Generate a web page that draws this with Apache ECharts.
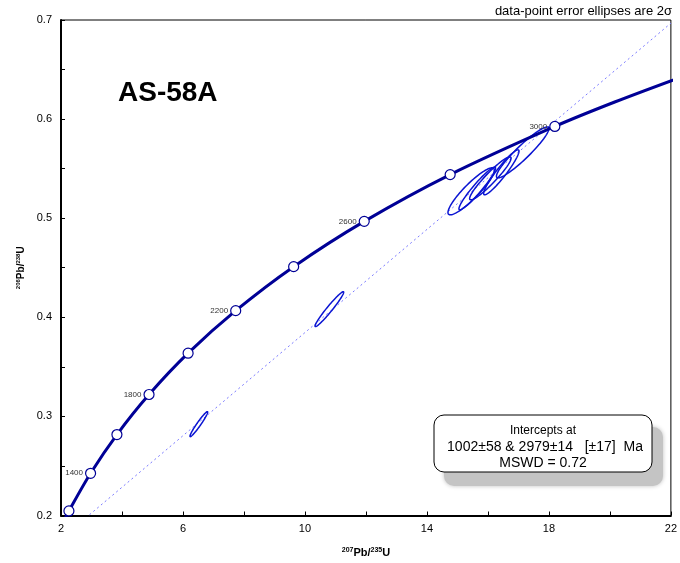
<!DOCTYPE html>
<html>
<head>
<meta charset="utf-8">
<script src="https://cdn.jsdelivr.net/npm/echarts@6/dist/echarts.min.js"></script>
<style>
html,body{margin:0;padding:0;background:#fff;}
#c{width:680px;height:563px;}
</style>
</head>
<body>
<div id="c"></div>
<script>
// Concordia curve points (Ma, 207Pb/235U, 206Pb/238U)
const curveAges = [1150, 1200, 1400, 1600, 1800, 2000, 2200, 2400, 2600, 2800, 3000, 3100, 3200];
const curveX = [2.104, 2.260, 2.970, 3.834, 4.887, 6.168, 7.729, 9.629, 11.944, 14.762, 18.194, 20.18, 22.37];
const curveY = [0.1953, 0.2046, 0.2426, 0.2817, 0.3221, 0.3638, 0.4067, 0.4511, 0.4968, 0.5440, 0.5926, 0.6175, 0.6428];
// Age markers
const markerAges = [1200, 1400, 1600, 1800, 2000, 2200, 2400, 2600, 2800, 3000];
const markerX = [2.260, 2.970, 3.834, 4.887, 6.168, 7.729, 9.629, 11.944, 14.762, 18.194];
const markerY = [0.2046, 0.2426, 0.2817, 0.3221, 0.3638, 0.4067, 0.4511, 0.4968, 0.5440, 0.5926];
const labeledAges = [1400, 1800, 2200, 2600, 3000];
// Discordia line endpoints
const discordiaX = [1.683, 22.0];
const discordiaY = [0.1682, 0.6968];
// Error ellipses: centre x, centre y, x half-width, y half-height, correlation
const ellX   = [6.52, 10.80, 15.45, 15.65, 16.08, 16.44, 17.14];
const ellY   = [0.2922, 0.4082, 0.5271, 0.5300, 0.5402, 0.5463, 0.5664];
const ellSX  = [0.29, 0.47, 0.76, 0.60, 0.68, 0.58, 0.86];
const ellSY  = [0.0126, 0.0176, 0.0237, 0.0215, 0.0217, 0.0227, 0.0257];
const ellRho = [0.965, 0.97, 0.90, 0.95, 0.94, 0.94, 0.935];
// Axis ticks
const xTickLabels = [2, 6, 10, 14, 18, 22];
const yTickLabels = [0.2, 0.3, 0.4, 0.5, 0.6, 0.7];

const FONT = 'Liberation Sans, Arial, sans-serif';
const chart = echarts.init(document.getElementById('c'));

const curveData = curveX.map((x, i) => [x, curveY[i]]);
const markerData = markerX.map((x, i) => [x, markerY[i], markerAges[i]]);
const discData = discordiaX.map((x, i) => [x, discordiaY[i]]);
const ellData = ellX.map((x, i) => [x, ellY[i], ellSX[i], ellSY[i], ellRho[i]]);

const gL = 61, gT = 20, gR = 675, gB = 516;

chart.setOption({
  animation: false,
  grid: {left: gL, top: gT, right: 680 - gR, bottom: 563 - gB, show: true, borderColor: '#000', borderWidth: 1},
  xAxis: {
    type: 'value', min: 2, max: 22, interval: 2,
    splitLine: {show: false},
    axisLine: {show: true, onZero: false, lineStyle: {color: '#000', width: 2}},
    axisTick: {show: true, inside: true, length: 4, lineStyle: {color: '#000'}},
    axisLabel: {
      color: '#000', fontFamily: FONT, fontSize: 11, margin: 8,
      formatter: v => xTickLabels.indexOf(Math.round(v)) >= 0 ? String(Math.round(v)) : ''
    },
    name: '{sup|207}{b|Pb/}{sup|235}{b|U}',
    nameLocation: 'middle', nameGap: 31,
    nameTextStyle: {
      rich: {
        sup: {fontSize: 7, fontWeight: 'bold', fontFamily: FONT, color: '#000', verticalAlign: 'top', padding: [0, 0, 5, 0]},
        b: {fontSize: 11, fontWeight: 'bold', fontFamily: FONT, color: '#000'}
      }
    }
  },
  yAxis: {
    type: 'value', min: 0.2, max: 0.7, interval: 0.05,
    splitLine: {show: false},
    axisLine: {show: true, onZero: false, lineStyle: {color: '#000', width: 2}},
    axisTick: {show: true, inside: true, length: 4, lineStyle: {color: '#000'}},
    axisLabel: {
      color: '#000', fontFamily: FONT, fontSize: 11, margin: 9,
      formatter: v => {
        const r = Math.round(v * 100) / 100;
        return yTickLabels.some(t => Math.abs(t - r) < 1e-6) ? r.toFixed(1) : '';
      }
    },
    name: '{sup|206}{b|Pb/}{sup|238}{b|U}',
    nameLocation: 'middle', nameGap: 35, nameRotate: 90,
    nameTextStyle: {
      rich: {
        sup: {fontSize: 6, fontWeight: 'bold', fontFamily: FONT, color: '#000', padding: [0, 0, 4, 0]},
        b: {fontSize: 10, fontWeight: 'bold', fontFamily: FONT, color: '#000'}
      }
    }
  },
  series: [
    {
      type: 'line', data: discData, symbol: 'none', silent: true, clip: true, z: 1,
      lineStyle: {color: '#7a7aff', width: 1, type: [2, 3]}
    },
    {
      type: 'custom', data: ellData, z: 2, clip: true,
      encode: {x: 0, y: 1},
      renderItem: function (params, api) {
        const cx = api.value(0), cy = api.value(1), sx = api.value(2), sy = api.value(3), r = api.value(4);
        const q = Math.sqrt(1 - r * r);
        const pts = [];
        for (let k = 0; k <= 90; k++) {
          const t = k / 90 * Math.PI * 2;
          pts.push(api.coord([cx + sx * Math.cos(t), cy + sy * (r * Math.cos(t) + q * Math.sin(t))]));
        }
        return {type: 'polygon', shape: {points: pts}, style: {fill: 'none', stroke: '#0a14d2', lineWidth: 1.5}};
      }
    },
    {
      type: 'line', data: curveData, symbol: 'none', smooth: 0.3, clip: true, z: 3,
      lineStyle: {color: '#000096', width: 3}
    },
    {
      type: 'scatter', data: markerData, symbol: 'circle', symbolSize: 10, z: 4,
      itemStyle: {color: '#fff', borderColor: '#000096', borderWidth: 1.2, opacity: 1},
      label: {
        show: true, position: 'left', distance: 2, fontSize: 8, fontFamily: FONT, color: '#333',
        formatter: p => labeledAges.indexOf(p.value[2]) >= 0 ? String(p.value[2]) : ''
      }
    }
  ],
  graphic: [
    {type: 'text', left: 118, top: 79, style: {text: 'AS-58A', font: 'bold 28px ' + FONT, fill: '#000'}},
    {type: 'text', right: 8, top: 5, style: {text: 'data-point error ellipses are 2σ', font: '13px ' + FONT, fill: '#000'}},
    {type: 'rect', shape: {x: 444, y: 427, width: 219, height: 59, r: 10}, style: {fill: '#c4c4c4', shadowBlur: 4, shadowColor: 'rgba(0,0,0,0.25)'}, z: 10},
    {type: 'rect', shape: {x: 434, y: 415, width: 218, height: 57, r: 10}, style: {fill: '#fff', stroke: '#000', lineWidth: 1}, z: 11},
    {type: 'text', x: 543, y: 431, style: {text: 'Intercepts at', font: '12px ' + FONT, fill: '#000', textAlign: 'center', textVerticalAlign: 'middle'}, z: 12},
    {type: 'text', x: 545, y: 447, style: {text: '1002±58 & 2979±14   [±17]  Ma', font: '14px ' + FONT, fill: '#000', textAlign: 'center', textVerticalAlign: 'middle'}, z: 12},
    {type: 'text', x: 543, y: 463, style: {text: 'MSWD = 0.72', font: '14px ' + FONT, fill: '#000', textAlign: 'center', textVerticalAlign: 'middle'}, z: 12}
  ]
});
</script>
</body>
</html>
